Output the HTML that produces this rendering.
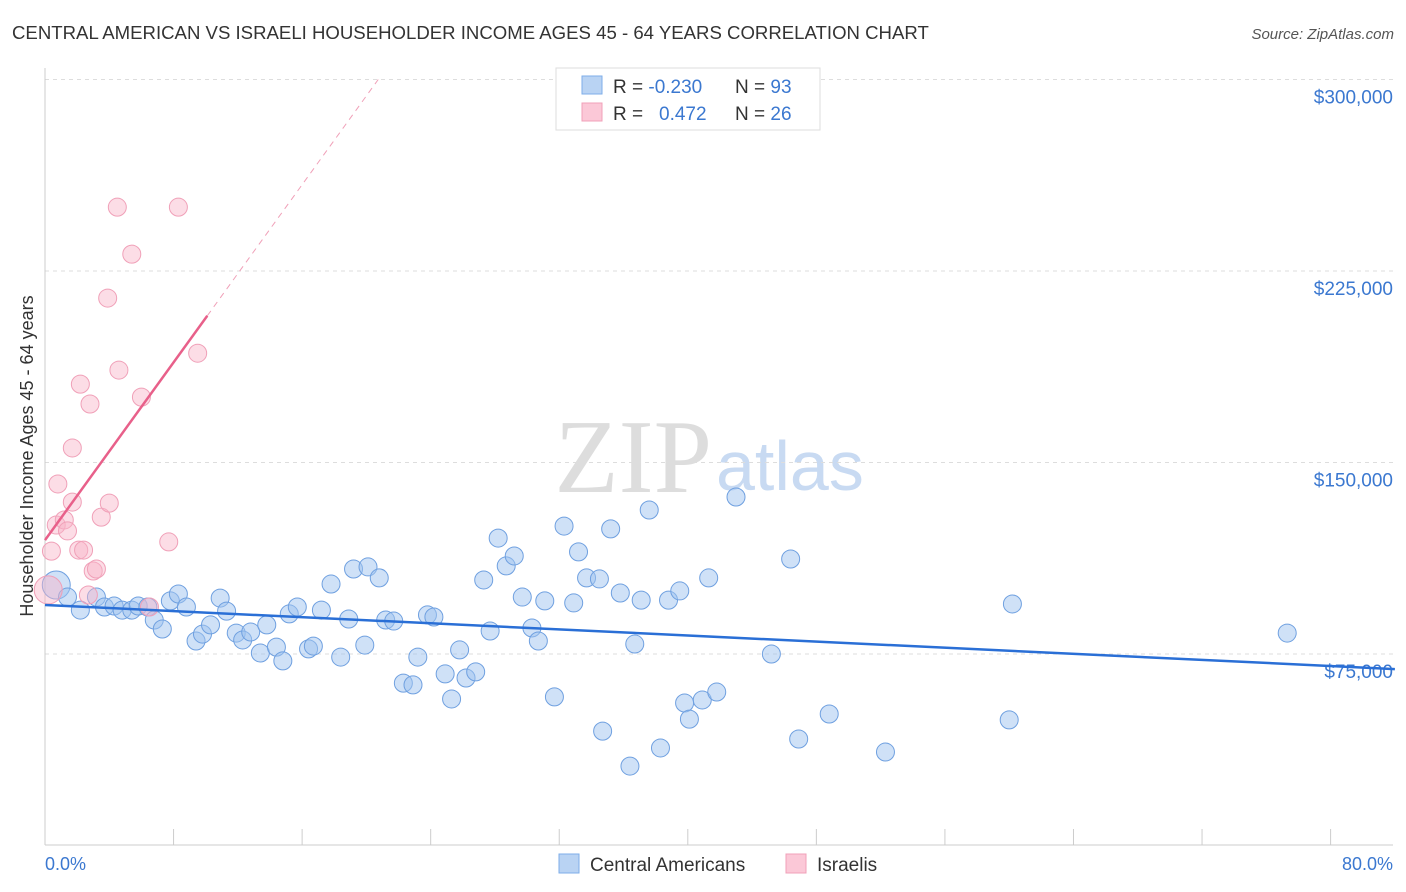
<!DOCTYPE html>
<html><head><meta charset="utf-8"><style>
body{margin:0;background:#fff;font-family:"Liberation Sans",sans-serif;}
svg{display:block}
</style></head><body>
<svg id="c" width="1406" height="892" xmlns="http://www.w3.org/2000/svg">
<text x="12" y="39" font-size="18.6" fill="#333">CENTRAL AMERICAN VS ISRAELI HOUSEHOLDER INCOME AGES 45 - 64 YEARS CORRELATION CHART</text>
<text x="1394" y="39" font-size="15" fill="#555" font-style="italic" text-anchor="end">Source: ZipAtlas.com</text>
<text x="712" y="492" font-size="105" fill="#ddd" font-family="Liberation Serif,serif" text-anchor="end">ZIP</text>
<text x="716" y="490" font-size="70" fill="#c8daf2">atlas</text>
<g id="grid"></g>
<line x1="45" y1="68" x2="45" y2="845" stroke="#ccc"/>
<line x1="45" y1="845" x2="1393" y2="845" stroke="#ccc"/>
<g id="ticks"></g>
<g id="pts"></g>
<g id="lines"></g>
<text transform="translate(33,456) rotate(-90)" font-size="18" fill="#333" text-anchor="middle">Householder Income Ages 45 - 64 years</text>
<text x="45" y="870" font-size="18" fill="#3b78d0">0.0%</text>
<text x="1393" y="870" font-size="18" fill="#3b78d0" text-anchor="end">80.0%</text>
<g>
<rect x="556" y="68" width="264" height="62" fill="#fff" stroke="#ddd"/>
<rect x="582" y="76" width="20" height="18" fill="#b9d3f3" stroke="#7eaee8"/>
<rect x="582" y="103" width="20" height="18" fill="#fbc8d7" stroke="#f0a0b8"/>
<text x="613" y="93" font-size="19" fill="#333">R = <tspan fill="#3b78d0">-0.230</tspan><tspan x="735">N = </tspan><tspan fill="#3b78d0">93</tspan></text>
<text x="613" y="120" font-size="19" fill="#333">R = <tspan x="659" fill="#3b78d0">0.472</tspan><tspan x="735">N = </tspan><tspan fill="#3b78d0">26</tspan></text>
</g>
<g>
<rect x="559" y="854" width="20" height="19" fill="#b9d3f3" stroke="#7eaee8"/>
<text x="590" y="871" font-size="19" fill="#333">Central Americans</text>
<rect x="786" y="854" width="20" height="19" fill="#fbc8d7" stroke="#f0a0b8"/>
<text x="817" y="871" font-size="19" fill="#333">Israelis</text>
</g>
</svg>
<script>
const yTicks=[75000,150000,225000,300000];
const yTickLabels=["$75,000","$150,000","$225,000","$300,000"];
const xTicks=[0,8,16,24,32,40,48,56,64,72,80];
const blueX=[0.7,1.4,2.2,3.2,3.7,4.3,4.8,5.4,5.8,6.4,6.8,7.3,7.8,8.3,8.8,9.4,9.8,10.3,10.9,11.3,11.9,12.3,12.8,13.4,13.8,14.4,14.8,15.2,15.7,16.4,16.7,17.2,17.8,18.4,18.9,19.2,19.9,20.1,20.8,21.2,21.7,22.3,22.9,23.2,23.8,24.2,24.9,25.3,25.8,26.2,26.8,27.3,27.7,28.2,28.7,29.2,29.7,30.3,30.7,31.1,31.7,32.3,32.9,33.2,33.7,34.5,34.7,35.2,35.8,36.4,36.7,37.1,37.6,38.3,38.8,39.5,39.8,40.1,40.9,41.3,41.8,43.0,45.2,46.4,46.9,48.8,52.3,60.0,60.2,77.3];
const blueY=[102.0,97.3,92.2,97.3,93.4,93.8,92.2,92.2,93.8,93.4,88.3,84.8,95.8,98.5,93.4,80.1,82.8,86.4,96.9,91.8,83.2,80.5,83.6,75.4,86.4,77.7,72.3,90.7,93.4,77.0,78.1,92.2,102.4,73.8,88.7,108.3,78.5,109.1,104.8,88.3,87.9,63.6,62.9,73.8,90.3,89.5,67.2,57.4,76.6,65.6,68.0,104.0,84.0,120.4,109.5,113.4,97.3,85.2,80.1,95.8,58.2,125.1,95.0,115.0,104.8,104.4,44.8,124.0,98.9,31.1,78.9,96.1,131.4,38.2,96.1,99.7,55.8,49.5,57.0,104.8,60.1,136.5,75.0,112.2,41.7,51.5,36.6,49.2,94.6,83.2];
const pinkX=[0.2,0.4,0.7,0.8,1.2,1.4,1.7,1.7,2.1,2.2,2.4,2.7,2.8,3.0,3.2,3.5,3.9,4.0,4.5,4.6,5.4,6.0,6.5,7.7,8.3,9.5];
const pinkY=[100.1,115.3,125.5,141.6,127.5,123.2,155.7,134.5,115.7,180.7,115.7,98.1,172.9,107.5,108.3,128.6,214.4,134.1,250.0,186.2,231.6,175.6,93.4,118.9,250.0,192.8];
const blueTrend=[94200,69100];
const pinkTrend=[119600,8700];
const NS="http://www.w3.org/2000/svg";
const X=p=>45+p*16.07;
const Y=v=>654-(v-75000)/75000*191.5;
function mk(t,a,parent){const e=document.createElementNS(NS,t);for(const k in a)e.setAttribute(k,a[k]);document.getElementById(parent).appendChild(e);return e;}
yTicks.forEach((v,i)=>{
 const l=mk('line',{x1:45,x2:1393,y1:Y(v),y2:Y(v),stroke:'#ddd','stroke-dasharray':'4,4'},'grid');
 
 
 const t=mk('text',{x:1393,y:Y(v)+24,'font-size':19,fill:'#3b78d0','text-anchor':'end'},'grid');
 t.textContent=yTickLabels[i];
 
 
});
xTicks.forEach(p=>{
 const l=mk('line',{x1:X(p),x2:X(p),y1:829,y2:845,stroke:'#ccc'},'ticks');
 
 
});
blueX.forEach((x,i)=>{
 const c=mk('circle',{cx:X(x),cy:Y(blueY[i]*1000),r:i==0?14:9,fill:'rgba(160,196,240,0.5)',stroke:'#6fa0e0','stroke-width':1},'pts');
 
 
});
pinkX.forEach((x,i)=>{
 const c=mk('circle',{cx:X(x),cy:Y(pinkY[i]*1000),r:i==0?14:9,fill:'rgba(248,180,200,0.45)',stroke:'#f0a0b8','stroke-width':1},'pts');
 
 
});
const bl=mk('line',{x1:X(0),y1:Y(blueTrend[0]),x2:X(84),y2:Y(blueTrend[1]),stroke:'#2a6fd6','stroke-width':2.5},'lines');


const pEnd=10.1;
const pl=mk('line',{x1:X(0),y1:Y(pinkTrend[0]),x2:X(pEnd),y2:Y(pinkTrend[0]+pinkTrend[1]*pEnd),stroke:'#e8608a','stroke-width':2.5},'lines');


const pDashEnd=(300000-pinkTrend[0])/pinkTrend[1];
const pd=mk('line',{x1:X(pEnd),y1:Y(pinkTrend[0]+pinkTrend[1]*pEnd),x2:X(pDashEnd),y2:Y(300000),stroke:'#f0a0b8','stroke-width':1,'stroke-dasharray':'6,5'},'lines');


</script>
</body></html>
